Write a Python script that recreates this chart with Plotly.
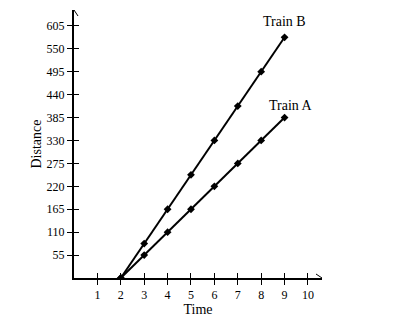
import plotly.graph_objects as go

time = [2, 3, 4, 5, 6, 7, 8, 9]
train_a = [0, 55, 110, 165, 220, 275, 330, 385]
train_b = [0, 82.5, 165, 247.5, 330, 412.5, 495, 577.5]
x_ticks = [1, 2, 3, 4, 5, 6, 7, 8, 9, 10]
y_ticks = [55, 110, 165, 220, 275, 330, 385, 440, 495, 550, 605]

FONT = "Liberation Serif"
XR = [0, 10.6]
YR = [0, 643]

fig = go.Figure()
for ys, name in [(train_a, "Train A"), (train_b, "Train B")]:
    fig.add_trace(go.Scatter(x=time, y=ys, mode="lines+markers", name=name,
                             line=dict(color="black", width=2),
                             marker=dict(color="black", size=6, symbol="diamond"),
                             showlegend=False))
# invisible trace to activate secondary tick axes
fig.add_trace(go.Scatter(x=[None], y=[None], xaxis="x2", yaxis="y2", showlegend=False))

fig.add_annotation(x=time[-1], y=train_b[-1], text="Train B", showarrow=False,
                   yshift=16, font=dict(family=FONT, size=14, color="black"))
fig.add_annotation(x=time[-1], y=train_a[-1], text="Train A", showarrow=False,
                   yshift=12, xshift=6, font=dict(family=FONT, size=14, color="black"))

# arrowheads at axis ends
fig.add_shape(type="path", xref="x", yref="y", xsizemode="pixel", ysizemode="pixel",
              xanchor=XR[1], yanchor=0, path="M -6 -4 L 0 0 L -6 4",
              line=dict(color="black", width=1))
fig.add_shape(type="path", xref="x", yref="y", xsizemode="pixel", ysizemode="pixel",
              xanchor=0, yanchor=YR[1], path="M -4 -6 L 0 0 L 4 -6",
              line=dict(color="black", width=1))

axis_common = dict(showgrid=False, zeroline=False, ticklen=5, tickwidth=1,
                   tickcolor="black", tickfont=dict(family=FONT, size=12, color="black"))
fig.update_layout(
    width=410, height=322, paper_bgcolor="white", plot_bgcolor="white",
    margin=dict(l=74, r=88, t=10, b=39),
    xaxis=dict(range=XR, tickvals=x_ticks, ticks="outside", showline=True,
               linecolor="black", linewidth=2,
               title=dict(text="Time", standoff=0, font=dict(family=FONT, size=14, color="black")),
               **axis_common),
    yaxis=dict(range=YR, tickvals=y_ticks, ticks="outside", showline=True,
               linecolor="black", linewidth=2,
               title=dict(text="Distance", standoff=2, font=dict(family=FONT, size=14, color="black")),
               **axis_common),
    xaxis2=dict(range=XR, tickvals=x_ticks, ticks="inside", overlaying="x",
                showticklabels=False, anchor="y", side="bottom", **axis_common),
    yaxis2=dict(range=YR, tickvals=y_ticks, ticks="inside", overlaying="y",
                showticklabels=False, anchor="x", side="left", **axis_common),
)
fig.write_html("out.html")
